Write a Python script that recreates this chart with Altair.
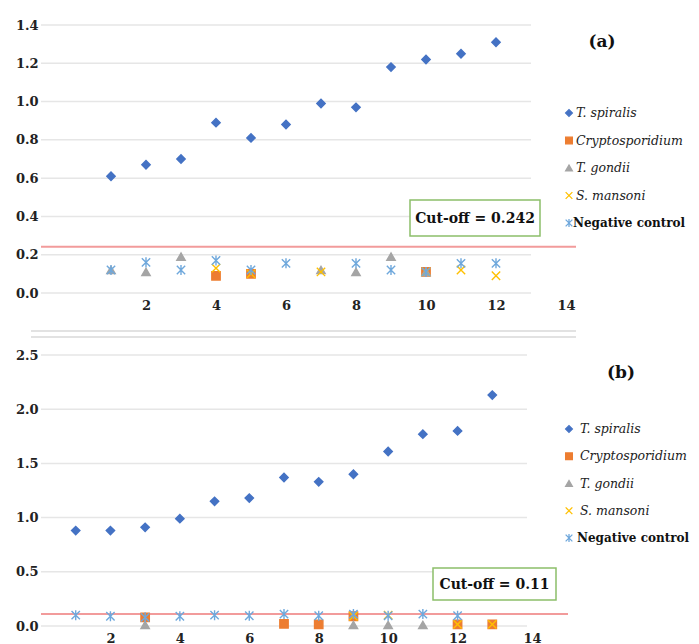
import altair as alt
import pandas as pd

# ---------------- data ----------------
series = ["T. spiralis", "Cryptosporidium", "T. gondii", "S. mansoni", "Negative control"]
colors = ["#4472C4", "#ED7D31", "#A5A5A5", "#FFC000", "#6FA8DC"]
shapes = ["diamond", "square", "triangle-up",
          "M-1,-1L1,1M-1,1L1,-1",
          "M-1,-1L1,1M-1,1L1,-1M0,-1.2L0,1.2"]

a_samples = list(range(1, 13))
a_spiralis = [0.61, 0.67, 0.70, 0.89, 0.81, 0.88, 0.99, 0.97, 1.18, 1.22, 1.25, 1.31]
a_crypto = [None, None, None, 0.09, 0.10, None, None, None, None, 0.11, None, None]
a_gondii = [0.12, 0.11, 0.19, None, None, None, 0.12, 0.11, 0.19, 0.11, None, None]
a_mansoni = [None, None, None, 0.13, 0.10, None, 0.11, None, None, 0.11, 0.12, 0.09]
a_neg = [0.12, 0.16, 0.12, 0.17, 0.12, 0.155, None, 0.155, 0.12, 0.11, 0.155, 0.155]
a_cutoff = 0.242

b_samples = list(range(1, 14))
b_spiralis = [0.88, 0.88, 0.91, 0.99, 1.15, 1.18, 1.37, 1.33, 1.40, 1.61, 1.77, 1.80, 2.13]
b_crypto = [None, None, 0.08, None, None, None, 0.02, 0.015, 0.09, None, None, 0.015, 0.015]
b_gondii = [None, None, 0.01, None, None, None, None, None, 0.01, 0.01, 0.01, None, None]
b_mansoni = [None, None, None, None, None, None, None, None, 0.09, 0.10, None, 0.015, 0.015]
b_neg = [0.10, 0.09, 0.08, 0.09, 0.10, 0.095, 0.11, 0.095, 0.11, 0.095, 0.11, 0.095, None]
b_cutoff = 0.11

x_ticks = [2, 4, 6, 8, 10, 12, 14]
a_yticks = [0.0, 0.2, 0.4, 0.6, 0.8, 1.0, 1.2, 1.4]
b_yticks = [0.0, 0.5, 1.0, 1.5, 2.0, 2.5]

FONT = "DejaVu Serif"


def long_df(xs, cols):
    rows = []
    for name, vals in zip(series, cols):
        for x, v in zip(xs, vals):
            if v is not None:
                rows.append({"sample": x, "od": v, "series": name})
    return pd.DataFrame(rows)


color_scale = alt.Scale(domain=series, range=colors)
shape_scale = alt.Scale(domain=series, range=shapes)


def panel(df, xdomain, width, grid_end, ydomain, height, yticks, cutoff, rule_end,
          box, box_text, tag, tag_pos, leg_sym_x, leg_txt_x, leg_range,
          off14, separator=False):
    xscale = alt.Scale(domain=xdomain, nice=False, zero=False)
    yscale = alt.Scale(domain=ydomain, nice=False, zero=False)

    grid = alt.Chart(pd.DataFrame({"g": yticks})).mark_rule(
        color="#e6e6e6", strokeWidth=1.5).encode(
        y=alt.Y("g:Q", scale=yscale, axis=None),
        x=alt.value(0), x2=alt.value(grid_end))

    pts = alt.Chart(df).mark_point(filled=True, size=70, strokeWidth=1.4, opacity=1).encode(
        x=alt.X("sample:Q", scale=xscale, title=None,
                axis=alt.Axis(values=x_ticks, grid=False, domain=False, ticks=False,
                              labelFont=FONT, labelFontWeight="bold", labelFontSize=13,
                              labelColor="#222222", labelPadding=6,
                              labelOffset={"condition": {"test": "datum.value == 14", "value": off14},
                                           "value": 0})),
        y=alt.Y("od:Q", scale=yscale, title=None,
                axis=alt.Axis(values=yticks, format=".1f", grid=False, domain=False, ticks=False,
                              labelFont=FONT, labelFontWeight="bold", labelFontSize=13,
                              labelColor="#222222", labelPadding=3)),
        shape=alt.Shape("series:N", scale=shape_scale, legend=None),
        fill=alt.Fill("series:N", scale=color_scale, legend=None),
        stroke=alt.Stroke("series:N", scale=color_scale, legend=None),
    )

    rule = alt.Chart(pd.DataFrame({"c": [cutoff]})).mark_rule(
        color="#F29B9B", strokeWidth=2).encode(
        y=alt.Y("c:Q", scale=yscale, axis=None),
        x=alt.value(0), x2=alt.value(rule_end))

    bx = alt.Chart(pd.DataFrame({"t": [box_text]})).mark_rect(
        fill="white", stroke="#8CBF6A", strokeWidth=1.5).encode(
        x=alt.value(box[0]), x2=alt.value(box[1]), y=alt.value(box[2]), y2=alt.value(box[3]))
    bt = alt.Chart(pd.DataFrame({"t": [box_text]})).mark_text(
        font=FONT, fontWeight="bold", fontSize=14, color="#111111",
        align="center", baseline="middle").encode(
        text="t:N", x=alt.value((box[0] + box[1]) / 2), y=alt.value((box[2] + box[3]) / 2 + 1))

    tg = alt.Chart(pd.DataFrame({"t": [tag]})).mark_text(
        font=FONT, fontWeight="bold", fontSize=17, color="#111111",
        align="center", baseline="middle").encode(
        text="t:N", x=alt.value(tag_pos[0]), y=alt.value(tag_pos[1]))

    leg_df = pd.DataFrame({"series": series})
    leg_y = alt.Y("series:N", scale=alt.Scale(type="point", domain=series, range=leg_range, padding=0),
                  axis=None, title=None)
    leg_sym = alt.Chart(leg_df).mark_point(filled=True, size=45, strokeWidth=1.3, opacity=1).encode(
        x=alt.value(leg_sym_x), y=leg_y,
        shape=alt.Shape("series:N", scale=shape_scale, legend=None),
        fill=alt.Fill("series:N", scale=color_scale, legend=None),
        stroke=alt.Stroke("series:N", scale=color_scale, legend=None),
    )
    leg_it = alt.Chart(leg_df).transform_filter(
        alt.datum.series != "Negative control").mark_text(
        font=FONT, fontStyle="italic", fontSize=12.5, color="#222222",
        align="left", baseline="middle").encode(
        x=alt.value(leg_txt_x), y=leg_y, text="series:N")
    leg_bd = alt.Chart(leg_df).transform_filter(
        alt.datum.series == "Negative control").mark_text(
        font=FONT, fontWeight="bold", fontSize=12, color="#111111",
        align="left", baseline="middle").encode(
        x=alt.value(leg_txt_x - 3), y=leg_y, text="series:N")

    layers = [grid, rule, pts, bx, bt, tg, leg_sym, leg_it, leg_bd]
    if separator:
        sep_df = pd.DataFrame({"k": [1]})
        s1 = alt.Chart(sep_df).mark_rule(color="#e2e2e2", strokeWidth=2).encode(
            x=alt.value(-10), x2=alt.value(535), y=alt.value(-24))
        s2 = alt.Chart(sep_df).mark_rule(color="#e2e2e2", strokeWidth=2).encode(
            x=alt.value(-10), x2=alt.value(535), y=alt.value(-18))
        layers = [s1, s2] + layers

    return alt.layer(*layers).resolve_scale(y="independent").properties(width=width, height=height)


df_a = long_df(a_samples, [a_spiralis, a_crypto, a_gondii, a_mansoni, a_neg])
df_b = long_df(b_samples, [b_spiralis, b_crypto, b_gondii, b_mansoni, b_neg])

chart_a = panel(df_a, [-1, 14], 525, 490, [0, 1.4], 268, a_yticks, a_cutoff, 535,
                (369, 499, 175, 211), "Cut-off = 0.242", "(a)", (561, 17),
                528, 535, [88, 198], 9)
chart_b = panel(df_b, [0, 14], 486, 486, [0, 2.5], 271, b_yticks, b_cutoff, 527,
                (392, 515, 213, 245), "Cut-off = 0.11", "(b)", (580, 18),
                528, 539, [74, 183], 14, separator=True)

chart = alt.vconcat(chart_a, chart_b, spacing=62, bounds="flush").properties(
    padding={"left": 7, "top": 11, "right": 0, "bottom": 0},
    background="white",
).configure_view(stroke=None).configure_axis(domain=False)

chart.save("out.html", embed_options={"renderer": "svg", "actions": False})
